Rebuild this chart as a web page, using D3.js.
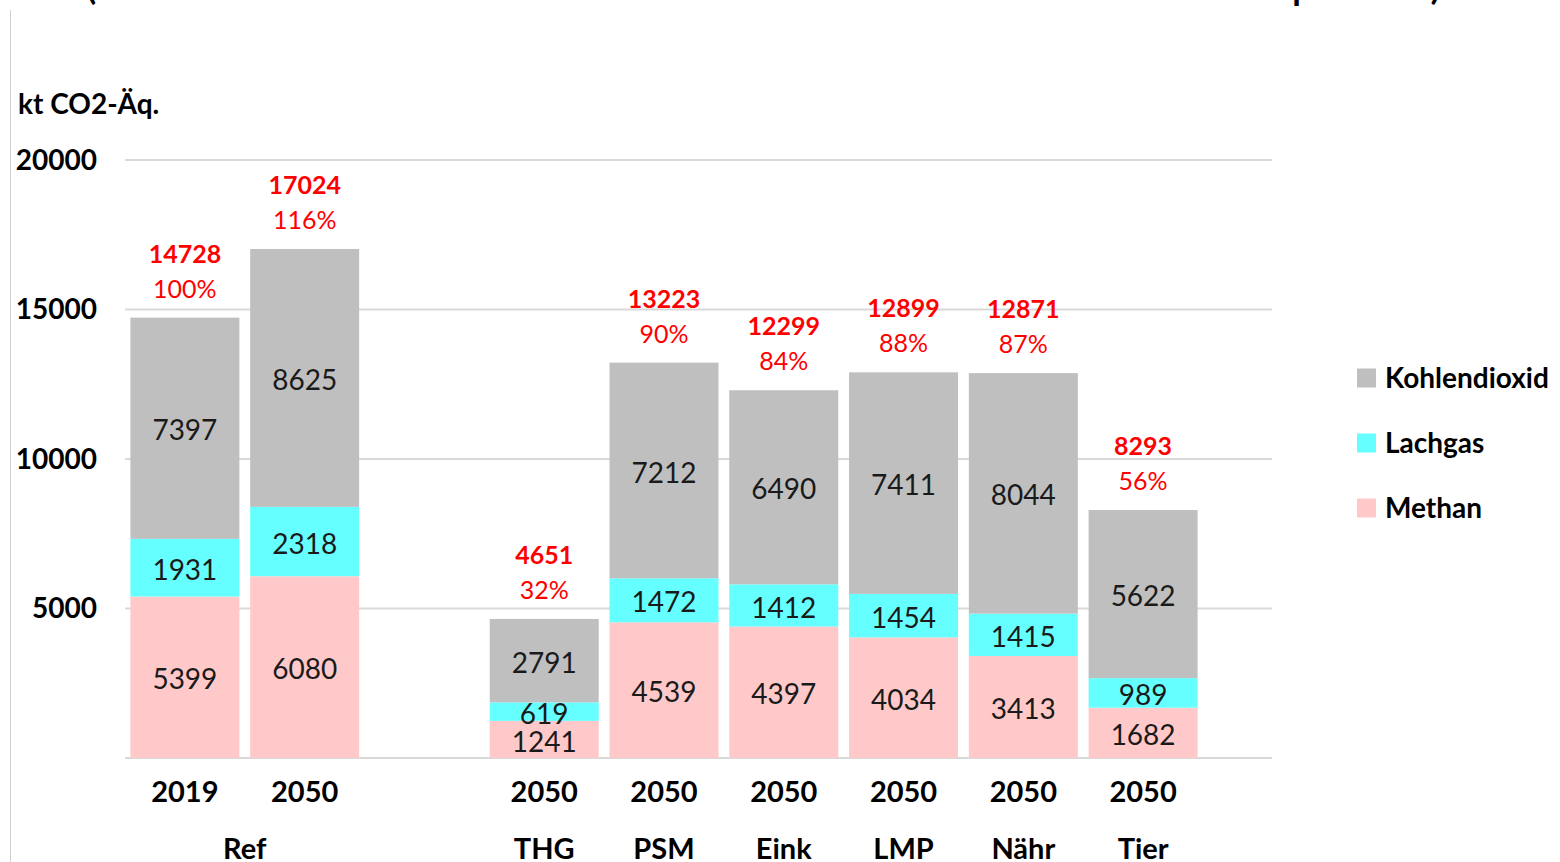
<!DOCTYPE html>
<html><head><meta charset="utf-8">
<script src="https://cdn.jsdelivr.net/npm/d3@7/dist/d3.min.js"></script>
<style>body{margin:0;background:#fff;}svg{display:block;font-family:Lato,"Open Sans",sans-serif;}</style>
</head><body>
<svg id="c" width="1560" height="862"></svg>
<script>
const slots = ["r2019","r2050","gap","THG","PSM","Eink","LMP","Nähr","Tier"];
const barSlots = ["r2019","r2050","THG","PSM","Eink","LMP","Nähr","Tier"];
const yearLabels = ["2019","2050","2050","2050","2050","2050","2050","2050"];
const methan = [5399,6080,1241,4539,4397,4034,3413,1682];
const lachgas = [1931,2318,619,1472,1412,1454,1415,989];
const kohlendioxid = [7397,8625,2791,7212,6490,7411,8044,5622];
const totals = [14728,17024,4651,13223,12299,12899,12871,8293];
const percents = ["100%","116%","32%","90%","84%","88%","87%","56%"];
const groups = [{name:"Ref",slots:["r2019","r2050"]},{name:"THG",slots:["THG"]},{name:"PSM",slots:["PSM"]},{name:"Eink",slots:["Eink"]},{name:"LMP",slots:["LMP"]},{name:"Nähr",slots:["Nähr"]},{name:"Tier",slots:["Tier"]}];
const yTicks = [5000,10000,15000,20000];
const seriesNames = ["Methan","Lachgas","Kohlendioxid"];
const seriesColors = ["#ffc9c9","#66ffff","#bfbfbf"];

const svg = d3.select("#c");
const x = d3.scaleBand().domain(slots).range([125,1203]).paddingInner(0.09).paddingOuter(0.045);
const y = d3.scaleLinear().domain([0,20000]).range([758,160]);

// frame line and title fragments
svg.append("line").attr("x1",10.5).attr("x2",10.5).attr("y1",10).attr("y2",862).attr("stroke","#d0d0d0").attr("stroke-width",1);
const tf = svg.append("g").attr("font-size",48).attr("fill","#000");
tf.append("text").attr("x",84).attr("y",-2).text("(");
tf.append("text").attr("x",1291).attr("y",-2).text("p");
tf.append("text").attr("x",1430).attr("y",-2).text(")");

// gridlines
svg.append("g").selectAll("line").data([0,...yTicks]).join("line")
  .attr("x1",125).attr("x2",1272).attr("y1",d=>y(d)).attr("y2",d=>y(d))
  .attr("stroke","#d9d9d9").attr("stroke-width",2);

// y tick labels
svg.append("g").selectAll("text").data(yTicks).join("text")
  .attr("x",97).attr("y",d=>y(d)).attr("dy","0.35em").attr("text-anchor","end")
  .attr("font-size",28).attr("font-weight","bold").text(d=>d);
svg.append("text").attr("x",18).attr("y",114).attr("font-size",28).attr("font-weight","bold").text("kt CO2-Äq.");

// stacked data
const rows = barSlots.map((s,i)=>({slot:s,Methan:methan[i],Lachgas:lachgas[i],Kohlendioxid:kohlendioxid[i]}));
const stack = d3.stack().keys(seriesNames)(rows);
const g = svg.append("g");
stack.forEach((layer,li)=>{
  g.append("g").selectAll("rect").data(layer).join("rect")
    .attr("x",d=>x(d.data.slot)).attr("width",x.bandwidth())
    .attr("y",d=>y(d[1])).attr("height",d=>y(d[0])-y(d[1]))
    .attr("fill",seriesColors[li]);
});
stack.forEach((layer,li)=>{
  g.append("g").selectAll("text").data(layer).join("text")
    .attr("x",d=>x(d.data.slot)+x.bandwidth()/2)
    .attr("y",d=>(y(d[0])+y(d[1]))/2+2).attr("dy","0.36em")
    .attr("text-anchor","middle").attr("font-size",28).attr("fill","#1a1a1a")
    .text(d=>d.data[layer.key]);
});
// totals
const tg = svg.append("g").attr("fill","#ff0000").attr("text-anchor","middle");
tg.selectAll("text.tot").data(barSlots).join("text").attr("class","tot")
  .attr("x",s=>x(s)+x.bandwidth()/2).attr("y",(s,i)=>y(totals[i])-64).attr("dy","0.36em")
  .attr("font-size",25).attr("font-weight","bold").text((s,i)=>totals[i]);
tg.selectAll("text.pct").data(barSlots).join("text").attr("class","pct")
  .attr("x",s=>x(s)+x.bandwidth()/2).attr("y",(s,i)=>y(totals[i])-29).attr("dy","0.36em")
  .attr("font-size",25).text((s,i)=>percents[i]);

// x labels
svg.append("g").selectAll("text").data(barSlots).join("text")
  .attr("x",s=>x(s)+x.bandwidth()/2).attr("y",792).attr("dy","0.36em")
  .attr("text-anchor","middle").attr("font-size",29).attr("font-weight","bold")
  .text((s,i)=>yearLabels[i]);
svg.append("g").selectAll("text").data(groups).join("text")
  .attr("x",gr=>d3.mean(gr.slots,s=>x(s)+x.bandwidth()/2)).attr("y",849).attr("dy","0.36em")
  .attr("text-anchor","middle").attr("font-size",29).attr("font-weight","bold")
  .text(gr=>gr.name);

// legend
const legendOrder = ["Kohlendioxid","Lachgas","Methan"];
const leg = svg.append("g").selectAll("g").data(legendOrder).join("g")
  .attr("transform",(d,i)=>`translate(1357,${378+i*65})`);
leg.append("rect").attr("x",0).attr("y",-9.5).attr("width",19).attr("height",19)
  .attr("fill",d=>seriesColors[seriesNames.indexOf(d)]);
leg.append("text").attr("x",28).attr("y",0).attr("dy","0.36em").attr("font-size",28).attr("font-weight","bold").text(d=>d);
</script>
</body></html>
